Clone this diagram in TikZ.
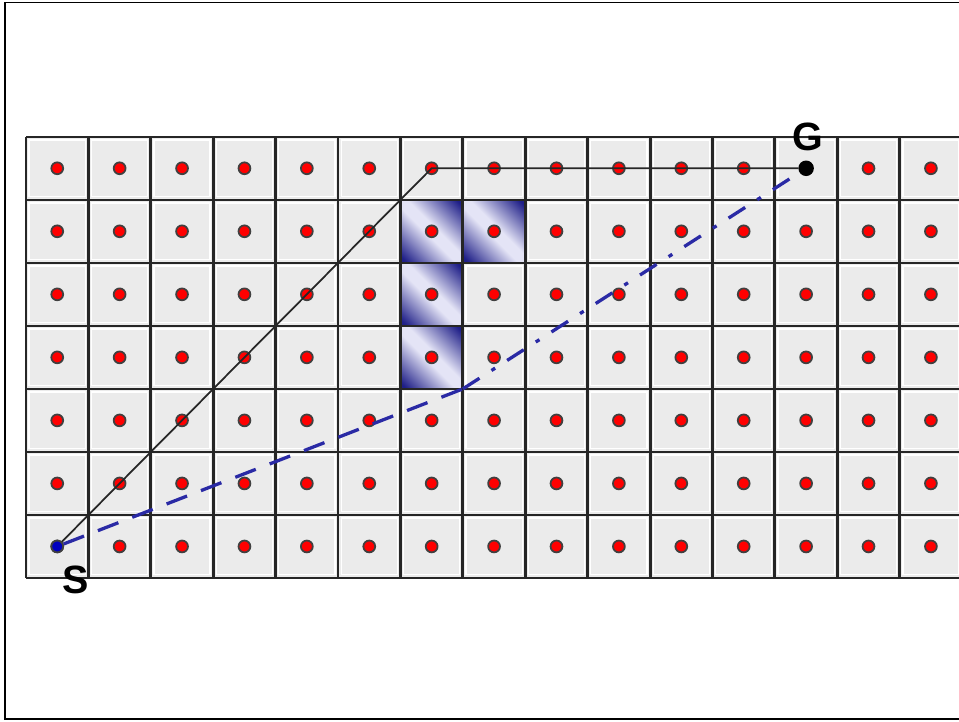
\documentclass[tikz,border=0pt]{standalone}
\usepackage{fontspec}
\setmainfont{Liberation Sans}
\usetikzlibrary{positioning}
\definecolor{cellgray}{RGB}{235,235,235}
\definecolor{pathblue}{RGB}{42,42,165}
\definecolor{blockblue}{RGB}{30,30,135}
\definecolor{blocklight}{RGB}{228,228,246}
\pgfdeclareverticalshading{blockshade}{100bp}{color(0bp)=(blockblue); color(18bp)=(blockblue);
  color(46bp)=(blocklight); color(54bp)=(blocklight); color(82bp)=(blockblue); color(100bp)=(blockblue)}
\tikzset{
  dot/.style={circle,fill=red,draw=black!75,line width=0.8pt,inner sep=0pt,minimum size=0.19cm},
  blocked/.style={shading=blockshade,shading angle=-45},
  lbl/.style={font=\bfseries\fontsize{18}{20}\selectfont,inner sep=0pt},
  dashedpath/.style={pathblue,line width=1.5pt,dash pattern=on 10pt off 6.8pt},
  dashdotpath/.style={pathblue,line width=1.5pt,dash pattern=on 9pt off 6.5pt on 2pt off 6.5pt},
}
\begin{document}
\begin{tikzpicture}[x=1cm,y=1.01cm]
  \useasboundingbox (-0.417,-2.27) rectangle (14.95,9.17);
  \begin{scope}
    \clip (-0.417,-2.27) rectangle (14.95,9.17);
    % Frame
    \draw[line width=0.9pt] (-0.337,-2.24) rectangle (16,9.13);
    % Cells
    \foreach \i in {0,...,14}
      \foreach \j in {0,...,6} {
        \fill[cellgray] (\i,\j) rectangle ++(1,1);
        \draw[white,line width=0.6pt] (\i+0.05,\j+0.05) rectangle ++(0.9,0.9);
      }
    % Blocked cells
    \foreach \i/\j in {6/5,7/5,6/4,6/3}
      \shade[blocked] (\i,\j) rectangle ++(1,1);
    % Grid lines
    \foreach \i in {0,...,15}
      \draw[line width=1.3pt,black!85] (\i,0) -- (\i,7);
    \foreach \j in {0,...,7}
      \draw[line width=0.9pt,black!85] (0,\j) -- (15,\j);
    % Cell centres
    \foreach \i in {0,...,14}
      \foreach \j in {0,...,6}
        \node[dot] (c-\i-\j) at (\i+0.5,\j+0.5) {};
  \end{scope}
  % Start and goal
  \node[dot,fill=blue!75!black] (S) at (c-0-0) {};
  \node[dot,fill=black,draw=black,minimum size=0.22cm] (G) at (c-12-6) {};
  \coordinate (bend) at (7,3);
  % Grid path
  \draw[line width=0.8pt,black!85] (S) -- (c-6-6.center) -- (G);
  % Any-angle path
  \draw[dashedpath] (S) -- (bend);
  \draw[dashdotpath] (bend) -- (G);
  % Labels
  \node[lbl] (s-label) at (0.8,-0.03) {S};
  \node[lbl] (g-label) at (12.53,7.0) {G};
\end{tikzpicture}
\end{document}
